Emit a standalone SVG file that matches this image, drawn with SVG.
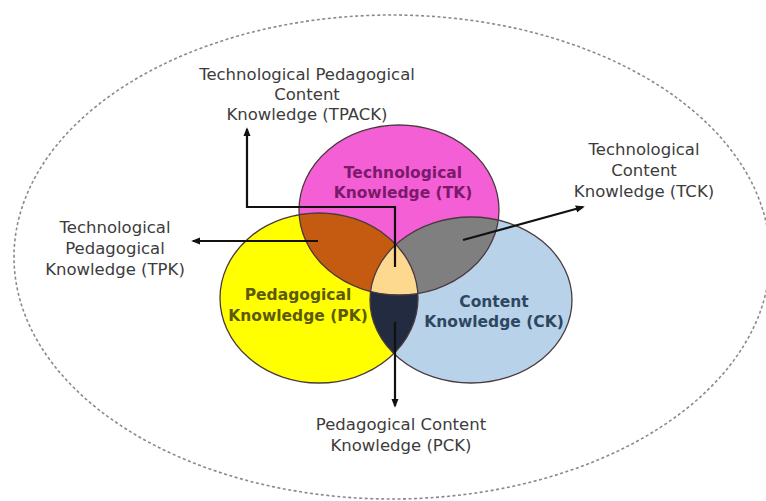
<svg xmlns="http://www.w3.org/2000/svg" width="766" height="501" viewBox="0 0 766 501">
<style>
.lbl{font-family:"DejaVu Sans","Liberation Sans",sans-serif;font-size:16.5px;fill:#3c3c3c;text-anchor:middle}
.in{font-family:"DejaVu Sans","Liberation Sans",sans-serif;font-size:15.5px;font-weight:bold;text-anchor:middle}
.edge{stroke:#4a3a3e;stroke-width:1.3;fill:none}
.conn{stroke:#111;stroke-width:2.2;fill:none}
</style>
<defs>
<marker id="arr" markerUnits="userSpaceOnUse" markerWidth="9" markerHeight="9" viewBox="0 0 10 10" refX="8" refY="5" orient="auto">
<path d="M0,1 L10,5 L0,9 Z" fill="#111"/>
</marker>
<clipPath id="cTK"><ellipse cx="399" cy="210" rx="100" ry="85"/></clipPath>
<clipPath id="cPK"><ellipse cx="319" cy="298" rx="99" ry="85"/></clipPath>
<clipPath id="cCK"><ellipse cx="471" cy="300" rx="101" ry="83"/></clipPath>
</defs>
<rect width="766" height="501" fill="#fff"/>
<ellipse id="outer" cx="392" cy="257" rx="378" ry="242" fill="none" stroke="#8a8a8a" stroke-width="1.6" stroke-dasharray="3 2.5"/>
<g id="PK">
<ellipse cx="319" cy="298" rx="99" ry="85" fill="#ffff00"/>
</g>
<g id="CK">
<ellipse cx="471" cy="300" rx="101" ry="83" fill="#b8d2ea"/>
</g>
<g id="TK">
<ellipse cx="399" cy="210" rx="100" ry="85" fill="#f55fd6"/>
</g>
<g id="TPK">
<ellipse cx="319" cy="298" rx="99" ry="85" fill="#c55a11" clip-path="url(#cTK)"/>
</g>
<g id="TCK">
<ellipse cx="471" cy="300" rx="101" ry="83" fill="#7f7f7f" clip-path="url(#cTK)"/>
</g>
<g id="PCK">
<ellipse cx="471" cy="300" rx="101" ry="83" fill="#222b40" clip-path="url(#cPK)"/>
</g>
<g id="TPACK">
<g clip-path="url(#cPK)"><ellipse cx="399" cy="210" rx="100" ry="85" fill="#fdd88f" clip-path="url(#cCK)"/></g>
</g>
<g id="outlines">
<ellipse class="edge" cx="319" cy="298" rx="99" ry="85"/>
<ellipse class="edge" cx="471" cy="300" rx="101" ry="83"/>
<ellipse class="edge" cx="399" cy="210" rx="100" ry="85"/>
</g>
<g id="inner-labels">
<text class="in" fill="#7a1a6a"><tspan x="403" y="178">Technological</tspan><tspan x="403" y="198">Knowledge (TK)</tspan></text>
<text class="in" fill="#5c5a08"><tspan x="298" y="300">Pedagogical</tspan><tspan x="298" y="321">Knowledge (PK)</tspan></text>
<text class="in" fill="#2f4660"><tspan x="494" y="307">Content</tspan><tspan x="494" y="327">Knowledge (CK)</tspan></text>
</g>
<g id="connectors">
<polyline class="conn" points="395,267 395,207 247,207 247,129" marker-end="url(#arr)"/>
<line class="conn" x1="318" y1="241" x2="193" y2="241" marker-end="url(#arr)"/>
<line class="conn" x1="463" y1="240" x2="583" y2="207" marker-end="url(#arr)"/>
<line class="conn" x1="395" y1="322" x2="395" y2="406" marker-end="url(#arr)"/>
</g>
<g id="label-TPACK">
<text class="lbl"><tspan x="307" y="80">Technological Pedagogical</tspan><tspan x="307" y="100">Content</tspan><tspan x="307" y="120">Knowledge (TPACK)</tspan></text>
</g>
<g id="label-TPK">
<text class="lbl"><tspan x="115" y="233">Technological</tspan><tspan x="115" y="254">Pedagogical</tspan><tspan x="115" y="275">Knowledge (TPK)</tspan></text>
</g>
<g id="label-TCK">
<text class="lbl"><tspan x="644" y="155">Technological</tspan><tspan x="644" y="176">Content</tspan><tspan x="644" y="197">Knowledge (TCK)</tspan></text>
</g>
<g id="label-PCK">
<text class="lbl"><tspan x="401" y="430">Pedagogical Content</tspan><tspan x="401" y="451">Knowledge (PCK)</tspan></text>
</g>
</svg>
